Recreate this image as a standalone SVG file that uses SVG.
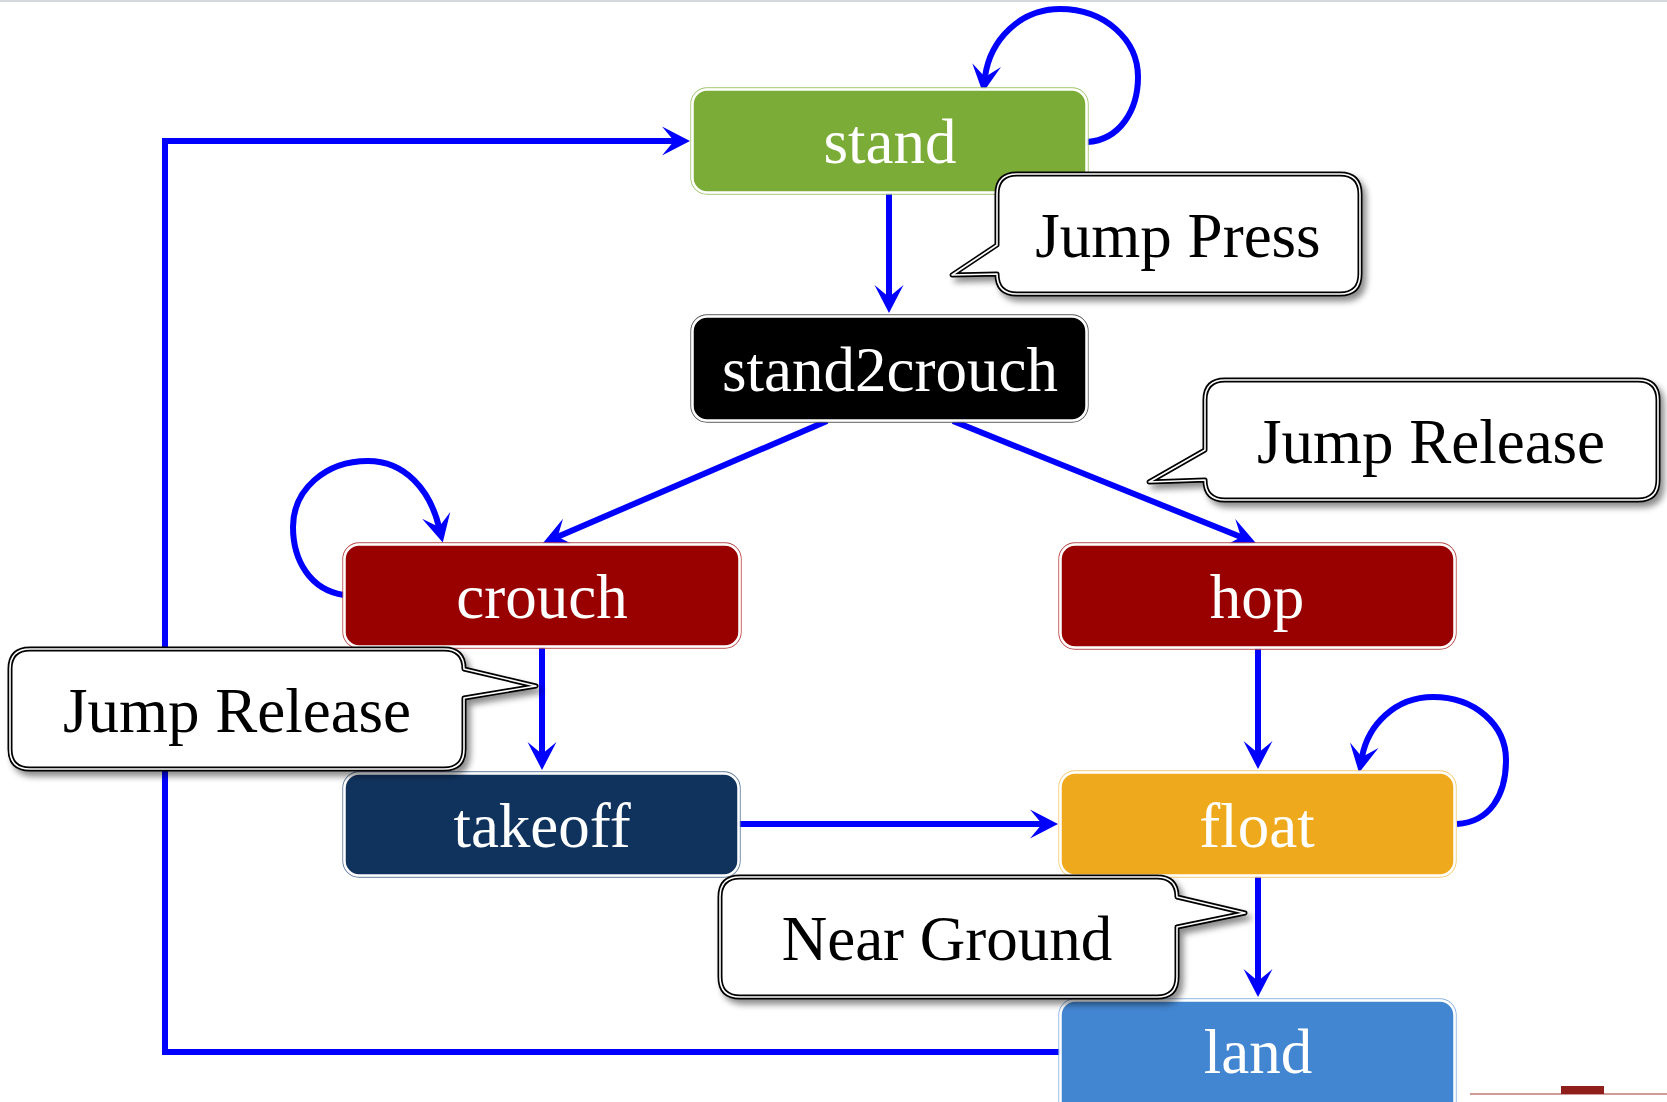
<svg xmlns="http://www.w3.org/2000/svg" width="1667" height="1102" viewBox="0 0 1667 1102">
<style>
.edge{fill:none;stroke:#0000ff;stroke-width:6;marker-end:url(#ah)}
.box{stroke:#ffffff;stroke-width:2.5}
.rim{fill:none;stroke-width:1.3}
.lbl{font-family:"Liberation Serif","Times New Roman",serif;font-size:63px;fill:#ffffff;text-anchor:middle}
.ct{font-family:"Liberation Serif","Times New Roman",serif;font-size:63px;fill:#000000;text-anchor:middle}
.co{fill:#ffffff;stroke:#000000;stroke-width:5;stroke-linejoin:round}
.ci{fill:none;stroke:#ffffff;stroke-width:1.6;stroke-linejoin:round}
</style>
<defs>
<marker id="ah" viewBox="-14 -16 32 32" markerWidth="32" markerHeight="32" refX="0" refY="0" orient="auto" markerUnits="userSpaceOnUse">
<path d="M16,0 L-12,-14.5 L0,0 L-12,14.5 Z" fill="#0000ff"/>
</marker>
<filter id="sh" x="-10%" y="-10%" width="130%" height="140%">
<feDropShadow dx="4" dy="5" stdDeviation="3" flood-color="#000" flood-opacity="0.45"/>
</filter>
</defs>
<rect x="0" y="0" width="1667" height="1102" fill="#ffffff"/>
<line x1="0" y1="1" x2="1667" y2="1" stroke="#d6d8e0" stroke-width="2"/>
<g id="decor">
<line x1="1470" y1="1094" x2="1667" y2="1094" stroke="#c07a75" stroke-width="1.5"/>
<rect x="1561" y="1086" width="43" height="8" fill="#8e1f1a"/>
</g>
<g id="connectors">
<path class="edge" d="M889,193 V297"/>
<path class="edge" d="M827,421 L557.7,536.7"/>
<path class="edge" d="M953,421 L1241,537"/>
<path class="edge" d="M542,647 V754"/>
<path class="edge" d="M1258,648 V753"/>
<path class="edge" d="M739,824 H1042"/>
<path class="edge" d="M1258,876 V981"/>
<path class="edge" d="M1060,1052 H165 V141 H674"/>
<path class="edge" d="M1087,142 C1120,140 1138,110 1138,77 C1138,40 1105,9 1060,9 C1020,9 990,40 985,77"/>
<path class="edge" d="M344,595 C310,590 293,560 293,527 C293,490 325,461 368,461 C405,461 430,490 439,527"/>
<path class="edge" d="M1457,824 C1490,822 1506,795 1506,760 C1506,725 1475,697 1433,697 C1395,697 1368,725 1362,757"/>
</g>
<g id="stand">
<rect class="rim" x="691" y="88" width="397" height="106" rx="16" stroke="#9dc46c"/>
<rect class="box" x="692.5" y="89.5" width="394" height="103" rx="14.5" fill="#7cac38"/>
<text class="lbl" x="890" y="163">stand</text>
</g>
<g id="stand2crouch">
<rect class="rim" x="691" y="315" width="397" height="107" rx="16" stroke="#555555"/>
<rect class="box" x="692.5" y="316.5" width="394" height="104" rx="14.5" fill="#000000"/>
<text class="lbl" x="890" y="391">stand2crouch</text>
</g>
<g id="crouch">
<rect class="rim" x="343" y="543" width="398" height="105" rx="16" stroke="#b84545"/>
<rect class="box" x="344.5" y="544.5" width="395" height="102" rx="14.5" fill="#990000"/>
<text class="lbl" x="542" y="618">crouch</text>
</g>
<g id="hop">
<rect class="rim" x="1059" y="543" width="397" height="106" rx="16" stroke="#b84545"/>
<rect class="box" x="1060.5" y="544.5" width="394" height="103" rx="14.5" fill="#990000"/>
<text class="lbl" x="1257" y="618">hop</text>
</g>
<g id="takeoff">
<rect class="rim" x="343" y="772" width="397" height="105" rx="16" stroke="#5a7699"/>
<rect class="box" x="344.5" y="773.5" width="394" height="102" rx="14.5" fill="#10335e"/>
<text class="lbl" x="542" y="847">takeoff</text>
</g>
<g id="float">
<rect class="rim" x="1059" y="771" width="397" height="106" rx="16" stroke="#f3c970"/>
<rect class="box" x="1060.5" y="772.5" width="394" height="103" rx="14.5" fill="#eeaa1c"/>
<text class="lbl" x="1257" y="847">float</text>
</g>
<g id="land">
<rect class="rim" x="1059" y="999" width="397" height="120" rx="16" stroke="#8ab2e2"/>
<rect class="box" x="1060.5" y="1000.5" width="394" height="117" rx="14.5" fill="#4285d0"/>
<text class="lbl" x="1258" y="1073">land</text>
</g>
<g id="callout-jump-press" filter="url(#sh)">
<path class="co" d="M1017,174 H1340 Q1360,174 1360,194 V274 Q1360,294 1340,294 H1017 Q997,294 997,274 L952,275 L997,245 V194 Q997,174 1017,174 Z"/>
<path class="ci" d="M1017,174 H1340 Q1360,174 1360,194 V274 Q1360,294 1340,294 H1017 Q997,294 997,274 L952,275 L997,245 V194 Q997,174 1017,174 Z"/>
<text class="ct" x="1178" y="257">Jump Press</text>
</g>
<g id="callout-jump-release-right" filter="url(#sh)">
<path class="co" d="M1225,380 H1638 Q1658,380 1658,400 V480 Q1658,500 1638,500 H1225 Q1205,500 1205,480 L1149,482 L1205,450 V400 Q1205,380 1225,380 Z"/>
<path class="ci" d="M1225,380 H1638 Q1658,380 1658,400 V480 Q1658,500 1638,500 H1225 Q1205,500 1205,480 L1149,482 L1205,450 V400 Q1205,380 1225,380 Z"/>
<text class="ct" x="1431" y="463">Jump Release</text>
</g>
<g id="callout-jump-release-left" filter="url(#sh)">
<path class="co" d="M30,649 H444 Q464,649 464,669 L536,686 L464,698 V749 Q464,769 444,769 H30 Q10,769 10,749 V669 Q10,649 30,649 Z"/>
<path class="ci" d="M30,649 H444 Q464,649 464,669 L536,686 L464,698 V749 Q464,769 444,769 H30 Q10,769 10,749 V669 Q10,649 30,649 Z"/>
<text class="ct" x="237" y="732">Jump Release</text>
</g>
<g id="callout-near-ground" filter="url(#sh)">
<path class="co" d="M740,877 H1157 Q1177,877 1177,897 L1245,913 L1177,927 V977 Q1177,997 1157,997 H740 Q720,997 720,977 V897 Q720,877 740,877 Z"/>
<path class="ci" d="M740,877 H1157 Q1177,877 1177,897 L1245,913 L1177,927 V977 Q1177,997 1157,997 H740 Q720,997 720,977 V897 Q720,877 740,877 Z"/>
<text class="ct" x="947" y="960">Near Ground</text>
</g>
</svg>
